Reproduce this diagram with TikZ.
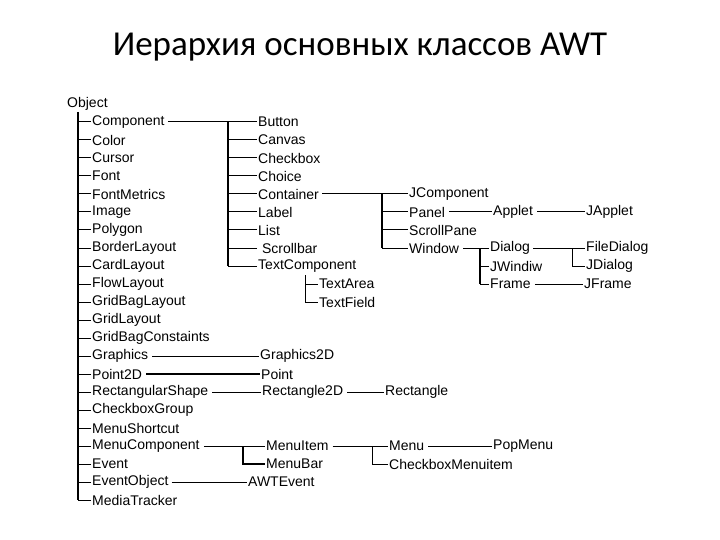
\documentclass[tikz,border=0pt]{standalone}
\usepackage{fontspec}
\setmainfont{Liberation Sans}
\newfontfamily\titlefont{Carlito}
\begin{document}
\begin{tikzpicture}[x=1pt,y=-1pt,
  lbl/.style={anchor=west,inner sep=1pt,font=\fontsize{14}{14}\selectfont},
  ln/.style={line width=1pt,black},
  tr/.style={line width=1.8pt,black}]
\useasboundingbox (0,0) rectangle (720,540);
\node[font=\titlefont\fontsize{35}{35}\selectfont] (title) at (360,47) {Иерархия основных классов AWT};
\node[lbl,anchor=west] (obj) at (66,104) {Object};
\coordinate (trunk) at (78,112);
\foreach \n/\t [count=\i] in {comp/Component,color/Color,cursor/Cursor,font/Font,fm/FontMetrics,image/Image,poly/Polygon,bl/BorderLayout,cl/CardLayout,fl/FlowLayout,gbl/GridBagLayout,gl/GridLayout,gbc/GridBagConstaints,gr/Graphics,p2d/Point2D,rs/RectangularShape,cbg/CheckboxGroup,ms/MenuShortcut,mc/MenuComponent,ev/Event,eo/EventObject,mt/MediaTracker}{
  \node[lbl] (\n) at (91,104+18*\i) {\t};
  \draw[ln] (\n.west) -- (78,104+18*\i);
}
\draw[tr] (trunk) -- (78,500);
% Component children
\coordinate (t1) at (228,122);
\foreach \n/\t/\y in {btn/Button/122,canv/Canvas/140,chk/Checkbox/158,choice/Choice/176,cont/Container/194,label/Label/212,list/List/230,sb/{\ Scrollbar}/248,tc/TextComponent/266}{
  \node[lbl] (\n) at (257,\y) {\t};
  \draw[ln] (\n.west) -- (t1 |- \n.west);
}
\draw[ln] (comp.east) ++(2,0) -- (t1);
\draw[tr] (t1) -- (t1 |- tc.west);
% TextComponent
\coordinate (t2) at (305,275);
\node[lbl] (ta) at (318,284) {TextArea};
\node[lbl] (tf) at (318,302) {TextField};
\draw[ln] (t2) |- (ta.west);
\draw[ln] (t2) |- (tf.west);
% Container
\coordinate (t3) at (382,194);
\foreach \n/\t/\y in {jc/JComponent/194,panel/Panel/212,sp/ScrollPane/230,win/Window/248}{
  \node[lbl] (\n) at (408,\y) {\t};
  \draw[ln] (\n.west) -- (t3 |- \n.west);
}
\draw[ln] (cont.east) ++(2,0) -- (t3);
\draw[tr] (t3) -- (t3 |- win.west);
\node[lbl] (applet) at (492,212) {Applet};
\node[lbl] (japplet) at (585,212) {JApplet};
\draw[ln] ([xshift=3pt]panel.east) -- (applet.west);
\draw[ln] ([xshift=3pt]applet.east) -- (japplet.west);
% Window
\coordinate (t4) at (480,248);
\foreach \n/\t/\y in {dlg/Dialog/248,jw/JWindiw/266,frame/Frame/284}{
  \node[lbl] (\n) at (489,\y) {\t};
  \draw[ln] (\n.west) -- (t4 |- \n.west);
}
\draw[ln] ([xshift=3pt]win.east) -- (t4);
\draw[tr] (t4) -- (t4 |- frame.west);
\coordinate (t5) at (572,248);
\node[lbl] (fd) at (585,248) {FileDialog};
\node[lbl] (jd) at (585,266) {JDialog};
\node[lbl] (jf) at (583,284) {JFrame};
\draw[ln] ([xshift=2pt]dlg.east) -- (fd.west);
\draw[ln] (t5) |- (jd.west);
\draw[ln] ([xshift=3pt]frame.east) -- (jf.west);
% Graphics etc.
\node[lbl] (g2d) at (259,356) {Graphics2D};
\draw[ln] ([xshift=3pt]gr.east) -- (g2d.west);
\node[lbl] (pt) at (260,374) {Point};
\draw[tr] ([xshift=3pt]p2d.east) -- (pt.west);
\node[lbl] (r2d) at (261,392) {Rectangle2D};
\node[lbl] (rect) at (384,392) {Rectangle};
\draw[ln] ([xshift=3pt]rs.east) -- (r2d.west);
\draw[ln] ([xshift=3pt]r2d.east) -- (rect.west);
% Menu
\coordinate (t6) at (243,446);
\node[lbl] (mi) at (265,446) {MenuItem};
\node[lbl] (mb) at (265,464) {MenuBar};
\draw[ln] ([xshift=3pt]mc.east) -- (mi.west);
\draw[tr] (t6) |- (mb.west);
\coordinate (t7) at (372,446);
\node[lbl] (menu) at (388,446) {Menu};
\node[lbl] (cbmi) at (388,464) {CheckboxMenuitem};
\draw[ln] ([xshift=3pt]mi.east) -- (menu.west);
\draw[ln] (t7) |- (cbmi.west);
\node[lbl] (pm) at (492,446) {PopMenu};
\draw[ln] ([xshift=3pt]menu.east) -- (pm.west);
\node[lbl] (awt) at (247,482) {AWTEvent};
\draw[ln] ([xshift=2pt]eo.east) -- (awt.west);
\end{tikzpicture}
\end{document}
